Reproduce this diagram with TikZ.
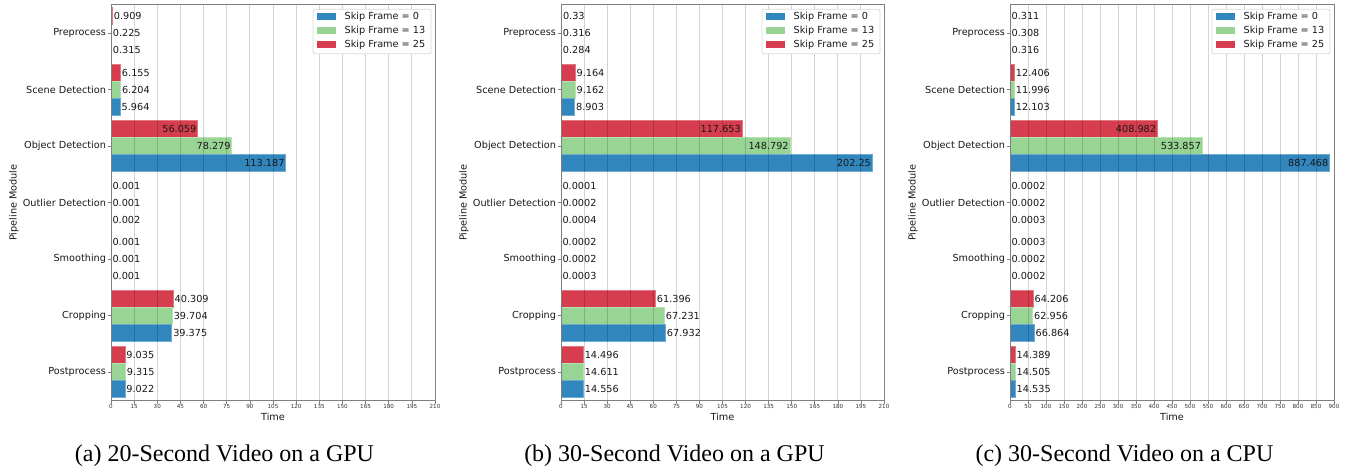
\documentclass[tikz,border=0pt]{standalone}
\usepackage{fontspec}
\setmainfont{DejaVu Sans}
\newfontfamily\capfont{Liberation Serif}
\definecolor{cblue}{RGB}{49,134,190}
\definecolor{cgreen}{RGB}{152,213,148}
\definecolor{cred}{RGB}{214,62,80}
\definecolor{spinec}{RGB}{128,128,128}
\tikzset{
 barbox/.style={fill=#1, draw=#1!70!white, line width=0.6pt},
 gridline/.style={draw=black, opacity=0.17, line width=0.9pt},
 spine/.style={draw=spinec, line width=1pt},
 tickmark/.style={draw=spinec, line width=0.7pt},
 vlab/.style={font=\fontsize{9.7}{11}\selectfont, inner sep=1pt, text=black!90},
 catlab/.style={font=\fontsize{9.7}{11}\selectfont, anchor=east, inner sep=0pt, text=black!90},
 xticklab/.style={font=\fontsize{5.6}{6}\selectfont, anchor=north, inner sep=0pt, text=black!80},
 axlab/.style={font=\fontsize{9.7}{11}\selectfont, inner sep=0pt, text=black!90},
 legtxt/.style={font=\fontsize{9.7}{11}\selectfont, anchor=west, inner sep=0pt, text=black!90},
 legframe/.style={draw=black!15, fill=white, rounded corners=2pt, line width=0.8pt},
 captxt/.style={font=\capfont\fontsize{24}{28}\selectfont, inner sep=0pt},
}
% #1 x0, #2 x1, #3 scale, #4 xmax, #5 step, #6 prefix, #7 data
\newcommand{\drawpanel}[7]{%
  \foreach \k/\r/\g/\b in {#7} {
    \pgfmathsetmacro\yc{33+56.5*\k}
    \pgfmathsetmacro\xr{#1+\r*#3}
    \pgfmathsetmacro\xg{#1+\g*#3}
    \pgfmathsetmacro\xb{#1+\b*#3}
    \path[barbox=cred] (#1,\yc-25.5) rectangle (\xr,\yc-8.5);
    \path[barbox=cgreen] (#1,\yc-8.5) rectangle (\xg,\yc+8.5);
    \path[barbox=cblue] (#1,\yc+8.5) rectangle (\xb,\yc+25.5);
    \ifnum\k=2
      \node[vlab,anchor=east] (#6-r\k) at (\xr,\yc-17) {\r};
      \node[vlab,anchor=east] (#6-g\k) at (\xg,\yc) {\g};
      \node[vlab,anchor=east] (#6-b\k) at (\xb,\yc+17) {\b};
    \else
      \node[vlab,anchor=west] (#6-r\k) at (\xr+0.3,\yc-17) {\r};
      \node[vlab,anchor=west] (#6-g\k) at (\xg+0.3,\yc) {\g};
      \node[vlab,anchor=west] (#6-b\k) at (\xb+0.3,\yc+17) {\b};
    \fi
  }
  \foreach \t in {0,#5,...,#4} {
    \pgfmathsetmacro\xx{#1+\t*#3}
    \draw[gridline] (\xx,5) -- (\xx,400.7);
    \draw[tickmark] (\xx,400.7) -- (\xx,404);
    \node[xticklab] (#6-xt\t) at (\xx,404.3) {\t};
  }
  \foreach \n [count=\i from 0] in {Preprocess,Scene Detection,Object Detection,Outlier Detection,Smoothing,Cropping,Postprocess} {
    \pgfmathsetmacro\yc{33+56.5*\i}
    \draw[tickmark] (#1-3.5,\yc) -- (#1,\yc);
    \node[catlab] (#6-c\i) at (#1-4.8,\yc) {\n};
  }
  \draw[spine] (#1,5) rectangle (#2,400.7);
  \node[axlab] (#6-xlab) at ({(#1+#2)/2},416.7) {Time};
  \node[axlab,rotate=90] (#6-ylab) at (#1-97,202.5) {Pipeline Module};
  % legend
  \draw[legframe] (#2-122,9.3) rectangle (#2-4,53.8);
  \fill[cblue] (#2-118,13.5) rectangle (#2-99,20.3);
  \fill[cgreen] (#2-118,27.5) rectangle (#2-99,34.3);
  \fill[cred] (#2-118,41) rectangle (#2-99,47.8);
  \node[legtxt] (#6-l0) at (#2-90.5,16.9) {Skip Frame = 0};
  \node[legtxt] (#6-l1) at (#2-90.5,30.9) {Skip Frame = 13};
  \node[legtxt] (#6-l2) at (#2-90.5,44.4) {Skip Frame = 25};
}
\begin{document}
\begin{tikzpicture}[x=1pt,y=-1pt]
\useasboundingbox (0,0) rectangle (1352,473);
\fill[white] (0,0) rectangle (1352,473);
\drawpanel{111}{435}{1.542857}{210}{15}{pa}{0/0.909/0.225/0.315, 1/6.155/6.204/5.964, 2/56.059/78.279/113.187, 3/0.001/0.001/0.002, 4/0.001/0.001/0.001, 5/40.309/39.704/39.375, 6/9.035/9.315/9.022}
\drawpanel{561}{884}{1.538095}{210}{15}{pb}{0/0.33/0.316/0.284, 1/9.164/9.162/8.903, 2/117.653/148.792/202.25, 3/0.0001/0.0002/0.0004, 4/0.0002/0.0002/0.0003, 5/61.396/67.231/67.932, 6/14.496/14.611/14.556}
\drawpanel{1010}{1334}{0.36}{900}{50}{pc}{0/0.311/0.308/0.316, 1/12.406/11.996/12.103, 2/408.982/533.857/887.468, 3/0.0002/0.0002/0.0003, 4/0.0003/0.0002/0.0002, 5/64.206/62.956/66.864, 6/14.389/14.505/14.535}
\node[captxt] (capa) at (224.5,456) {(a) 20-Second Video on a GPU};
\node[captxt] (capb) at (674.5,456) {(b) 30-Second Video on a GPU};
\node[captxt] (capc) at (1124.5,456) {(c) 30-Second Video on a CPU};
\end{tikzpicture}
\end{document}
